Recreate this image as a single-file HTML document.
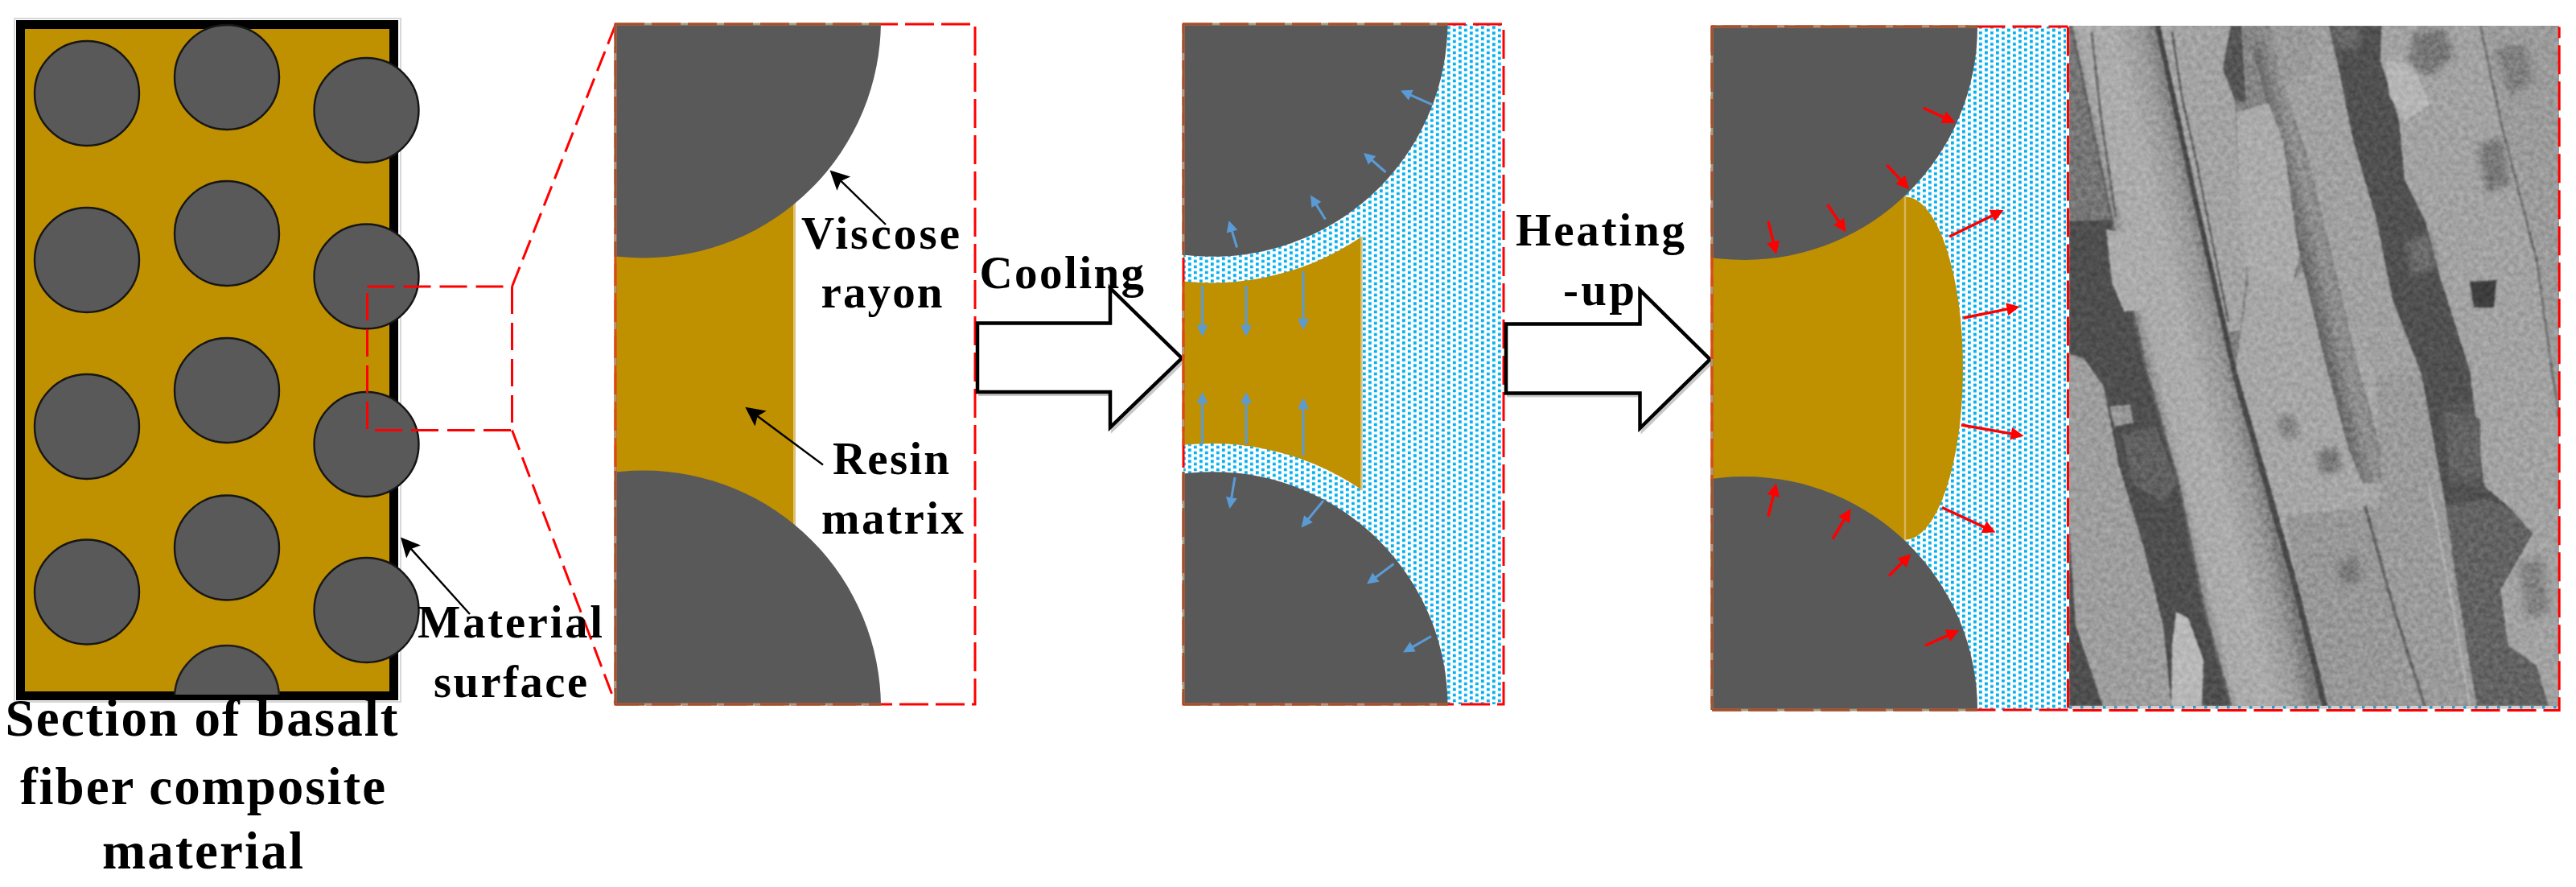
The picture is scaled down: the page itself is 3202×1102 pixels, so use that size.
<!DOCTYPE html>
<html><head><meta charset="utf-8"><style>
html,body{margin:0;padding:0;background:#fff;overflow:hidden}
svg{display:block}
text{font-family:"Liberation Serif",serif;font-weight:bold;fill:#000}
</style></head><body>
<svg width="3202" height="1102" viewBox="0 0 3202 1102">
<defs>
<pattern id="dots3" patternUnits="userSpaceOnUse" width="14" height="7" x="6.9" y="4.3">
<rect width="14" height="7" fill="#fff"/>
<rect x="0" y="0" width="3.8" height="3.8" fill="#00B0F0"/>
<rect x="7" y="3.5" width="3.8" height="3.8" fill="#00B0F0"/>
</pattern>
<pattern id="dots4" patternUnits="userSpaceOnUse" width="14" height="7" x="3" y="0.6">
<rect width="14" height="7" fill="#fff"/>
<rect x="0" y="0" width="3.8" height="3.8" fill="#00B0F0"/>
<rect x="7" y="3.5" width="3.8" height="3.8" fill="#00B0F0"/>
</pattern>
<clipPath id="cpL"><rect x="31" y="36" width="452" height="827"/></clipPath>
<clipPath id="cp2"><rect x="765" y="30" width="447" height="845"/></clipPath>
<clipPath id="cp3"><rect x="1471" y="30" width="398" height="845"/></clipPath>
<clipPath id="cp4"><rect x="2128" y="33" width="440" height="849"/></clipPath>
<clipPath id="cpS"><rect x="2572" y="32" width="609" height="845"/></clipPath>
<filter id="blur1" x="-5%" y="-5%" width="110%" height="110%"><feGaussianBlur stdDeviation="1.2"/></filter>
</defs>
<rect width="3202" height="1102" fill="#fff"/>

<rect x="18" y="23" width="480" height="849" fill="none" stroke="#d8d8d8" stroke-width="2"/>
<rect x="20" y="25" width="475" height="845" fill="#BF9000"/>
<rect x="25.5" y="30.5" width="464" height="834" fill="none" stroke="#000" stroke-width="11"/>
<circle cx="108" cy="116" r="65" fill="#595959" stroke="#161616" stroke-width="2.4"/>
<circle cx="108" cy="323" r="65" fill="#595959" stroke="#161616" stroke-width="2.4"/>
<circle cx="108" cy="530" r="65" fill="#595959" stroke="#161616" stroke-width="2.4"/>
<circle cx="108" cy="735.5" r="65" fill="#595959" stroke="#161616" stroke-width="2.4"/>
<circle cx="282" cy="96" r="65" fill="#595959" stroke="#161616" stroke-width="2.4"/>
<circle cx="282" cy="290" r="65" fill="#595959" stroke="#161616" stroke-width="2.4"/>
<circle cx="282" cy="485" r="65" fill="#595959" stroke="#161616" stroke-width="2.4"/>
<circle cx="282" cy="680.5" r="65" fill="#595959" stroke="#161616" stroke-width="2.4"/>
<circle cx="455.5" cy="137" r="65" fill="#595959" stroke="#161616" stroke-width="2.4"/>
<circle cx="455.5" cy="343.5" r="65" fill="#595959" stroke="#161616" stroke-width="2.4"/>
<circle cx="455.5" cy="552" r="65" fill="#595959" stroke="#161616" stroke-width="2.4"/>
<circle cx="455.5" cy="758" r="65" fill="#595959" stroke="#161616" stroke-width="2.4"/>
<g clip-path="url(#cpB)"><circle cx="282" cy="867" r="65" fill="#595959" stroke="#1e1e1e" stroke-width="2.5"/></g>
<clipPath id="cpB"><rect x="0" y="0" width="600" height="863"/></clipPath>
<rect x="456.5" y="356" width="180" height="178.5" fill="none" stroke="#FF0000" stroke-width="3" stroke-dasharray="34,11"/>
<line x1="636.5" y1="356" x2="765" y2="31" stroke="#FF0000" stroke-width="3" stroke-dasharray="26,10"/>
<line x1="636.5" y1="534.5" x2="765" y2="874" stroke="#FF0000" stroke-width="3" stroke-dasharray="26,10"/>
<line x1="584.0" y1="763.0" x2="510.2" y2="681.1" stroke="#000" stroke-width="2.4"/><polygon points="498.0,667.6 523.0,677.4 510.9,681.9 505.2,693.5" fill="#000"/>
<g clip-path="url(#cp2)">
<rect x="765" y="30" width="221.5" height="845" fill="#BF9000"/>
<line x1="987.5" y1="30" x2="987.5" y2="875" stroke="#DFC27A" stroke-width="3"/>
<circle cx="800" cy="25.5" r="295" fill="#595959"/>
<circle cx="800" cy="879.5" r="295" fill="#595959"/>
</g>
<rect x="765" y="30" width="447" height="845" fill="none" stroke="#FF0000" stroke-width="3" stroke-dasharray="36,9"/>
<line x1="765" y1="30" x2="765" y2="319" stroke="#A89878" stroke-width="3"/><line x1="765" y1="30" x2="765" y2="319" stroke="#A0522D" stroke-width="3" stroke-dasharray="36,9"/><line x1="765" y1="319" x2="765" y2="585" stroke="#A89878" stroke-width="3"/><line x1="765" y1="319" x2="765" y2="585" stroke="#DC4A0C" stroke-width="3" stroke-dasharray="36,9"/><line x1="765" y1="585" x2="765" y2="875" stroke="#A89878" stroke-width="3"/><line x1="765" y1="585" x2="765" y2="875" stroke="#A0522D" stroke-width="3" stroke-dasharray="36,9"/>
<line x1="765" y1="30" x2="1095" y2="30" stroke="#A89878" stroke-width="3"/><line x1="765" y1="30" x2="1095" y2="30" stroke="#A0522D" stroke-width="3" stroke-dasharray="36,9"/>
<line x1="765" y1="875" x2="1095" y2="875" stroke="#A89878" stroke-width="3"/><line x1="765" y1="875" x2="1095" y2="875" stroke="#A0522D" stroke-width="3" stroke-dasharray="36,9"/>
<line x1="1101.0" y1="279.0" x2="1044.6" y2="224.2" stroke="#000" stroke-width="2.4"/><polygon points="1031.5,211.5 1057.1,219.6 1045.3,224.9 1040.4,236.8" fill="#000"/>
<line x1="1023.0" y1="577.5" x2="940.9" y2="516.5" stroke="#000" stroke-width="2.4"/><polygon points="926.3,505.7 952.7,510.4 941.7,517.1 938.4,529.6" fill="#000"/>
<polygon points="1215,401.5 1380,401.5 1380,358 1469,445 1380,531 1380,487 1215,487" transform="translate(3,3)" fill="none" stroke="#c8c8c8" stroke-width="4"/><polygon points="1215,401.5 1380,401.5 1380,358 1469,445 1380,531 1380,487 1215,487" fill="#fff" stroke="#000" stroke-width="4.5" stroke-linejoin="miter"/>
<g clip-path="url(#cp3)">
<rect x="1471" y="30" width="398" height="845" fill="url(#dots3)"/>
<path d="M1471,30 H1691 V875 H1471 Z" fill="#BF9000" />
<circle cx="1506" cy="19.4" r="332" fill="url(#dots3)"/>
<circle cx="1506" cy="883" r="332" fill="url(#dots3)"/>
<line x1="1692.3" y1="294" x2="1692.3" y2="609" stroke="#DFC27A" stroke-width="2.6"/>
<circle cx="1508" cy="27.3" r="291.5" fill="#595959"/>
<circle cx="1508" cy="877.7" r="291.5" fill="#595959"/>
</g>
<rect x="1471" y="30" width="398" height="845" fill="none" stroke="#FF0000" stroke-width="3" stroke-dasharray="36,9"/>
<line x1="1471" y1="30" x2="1471" y2="317" stroke="#A89878" stroke-width="3"/><line x1="1471" y1="30" x2="1471" y2="317" stroke="#A0522D" stroke-width="3" stroke-dasharray="36,9"/><line x1="1471" y1="350" x2="1471" y2="553" stroke="#A89878" stroke-width="3"/><line x1="1471" y1="350" x2="1471" y2="553" stroke="#DC4A0C" stroke-width="3" stroke-dasharray="36,9"/><line x1="1471" y1="586" x2="1471" y2="875" stroke="#A89878" stroke-width="3"/><line x1="1471" y1="586" x2="1471" y2="875" stroke="#A0522D" stroke-width="3" stroke-dasharray="36,9"/>
<line x1="1471" y1="30" x2="1800" y2="30" stroke="#A89878" stroke-width="3"/><line x1="1471" y1="30" x2="1800" y2="30" stroke="#A0522D" stroke-width="3" stroke-dasharray="36,9"/>
<line x1="1471" y1="875" x2="1800" y2="875" stroke="#A89878" stroke-width="3"/><line x1="1471" y1="875" x2="1800" y2="875" stroke="#A0522D" stroke-width="3" stroke-dasharray="36,9"/>
<line x1="1494.5" y1="355.0" x2="1494.5" y2="405.0" stroke="#5B9BD5" stroke-width="3"/><polygon points="1494.5,418.0 1487.5,404.0 1494.5,404.0 1501.5,404.0" fill="#5B9BD5"/>
<line x1="1549.0" y1="355.0" x2="1549.0" y2="405.0" stroke="#5B9BD5" stroke-width="3"/><polygon points="1549.0,418.0 1542.0,404.0 1549.0,404.0 1556.0,404.0" fill="#5B9BD5"/>
<line x1="1620.0" y1="337.0" x2="1620.0" y2="397.0" stroke="#5B9BD5" stroke-width="3"/><polygon points="1620.0,410.0 1613.0,396.0 1620.0,396.0 1627.0,396.0" fill="#5B9BD5"/>
<line x1="1494.5" y1="552.0" x2="1494.5" y2="500.0" stroke="#5B9BD5" stroke-width="3"/><polygon points="1494.5,487.0 1501.5,501.0 1494.5,501.0 1487.5,501.0" fill="#5B9BD5"/>
<line x1="1549.0" y1="552.0" x2="1549.0" y2="500.0" stroke="#5B9BD5" stroke-width="3"/><polygon points="1549.0,487.0 1556.0,501.0 1549.0,501.0 1542.0,501.0" fill="#5B9BD5"/>
<line x1="1620.0" y1="566.0" x2="1620.0" y2="507.0" stroke="#5B9BD5" stroke-width="3"/><polygon points="1620.0,494.0 1627.0,508.0 1620.0,508.0 1613.0,508.0" fill="#5B9BD5"/>
<line x1="1537.5" y1="307.5" x2="1531.2" y2="286.5" stroke="#5B9BD5" stroke-width="3"/><polygon points="1527.5,274.0 1538.2,285.4 1531.5,287.4 1524.8,289.4" fill="#5B9BD5"/>
<line x1="1647.5" y1="272.5" x2="1635.8" y2="253.6" stroke="#5B9BD5" stroke-width="3"/><polygon points="1629.0,242.5 1642.3,250.7 1636.3,254.4 1630.4,258.1" fill="#5B9BD5"/>
<line x1="1722.5" y1="214.0" x2="1704.8" y2="198.5" stroke="#5B9BD5" stroke-width="3"/><polygon points="1695.0,190.0 1710.2,193.9 1705.5,199.2 1700.9,204.5" fill="#5B9BD5"/>
<line x1="1780.0" y1="130.0" x2="1752.9" y2="117.8" stroke="#5B9BD5" stroke-width="3"/><polygon points="1741.0,112.5 1756.6,111.8 1753.8,118.2 1750.9,124.6" fill="#5B9BD5"/>
<line x1="1535.0" y1="593.0" x2="1530.6" y2="619.2" stroke="#5B9BD5" stroke-width="3"/><polygon points="1528.5,632.0 1523.9,617.0 1530.8,618.2 1537.7,619.3" fill="#5B9BD5"/>
<line x1="1645.0" y1="622.0" x2="1625.7" y2="645.5" stroke="#5B9BD5" stroke-width="3"/><polygon points="1617.5,655.5 1621.0,640.2 1626.4,644.7 1631.8,649.1" fill="#5B9BD5"/>
<line x1="1732.5" y1="700.5" x2="1709.4" y2="717.7" stroke="#5B9BD5" stroke-width="3"/><polygon points="1699.0,725.5 1706.0,711.5 1710.2,717.1 1714.4,722.7" fill="#5B9BD5"/>
<line x1="1779.0" y1="790.5" x2="1755.3" y2="804.1" stroke="#5B9BD5" stroke-width="3"/><polygon points="1744.0,810.5 1752.7,797.5 1756.2,803.6 1759.6,809.6" fill="#5B9BD5"/>
<polygon points="1872,402.5 2038.5,402.5 2038.5,360.5 2125.5,446.5 2038.5,532 2038.5,488.5 1872,488.5" transform="translate(3,3)" fill="none" stroke="#c8c8c8" stroke-width="4"/><polygon points="1872,402.5 2038.5,402.5 2038.5,360.5 2125.5,446.5 2038.5,532 2038.5,488.5 1872,488.5" fill="#fff" stroke="#000" stroke-width="4.5" stroke-linejoin="miter"/>
<g clip-path="url(#cp4)">
<rect x="2128" y="33" width="440" height="849" fill="url(#dots4)"/>
<path d="M2128,33 H2368 V882 H2128 Z" fill="#BF9000"/>
<ellipse cx="2368" cy="457.5" rx="72" ry="213" fill="#BF9000"/>
<line x1="2368" y1="240" x2="2368" y2="680" stroke="#D9B45A" stroke-width="2.5"/>
<circle cx="2168" cy="33" r="290" fill="#595959"/>
<circle cx="2168" cy="882" r="290" fill="#595959"/>
</g>
<path d="M2570.5,882 H2128 V33 H2570.5" fill="none" stroke="#FF0000" stroke-width="3" stroke-dasharray="36,9"/>
<line x1="2128" y1="33" x2="2128" y2="320" stroke="#A89878" stroke-width="3"/><line x1="2128" y1="33" x2="2128" y2="320" stroke="#A0522D" stroke-width="3" stroke-dasharray="36,9"/><line x1="2128" y1="320" x2="2128" y2="595" stroke="#A89878" stroke-width="3"/><line x1="2128" y1="320" x2="2128" y2="595" stroke="#DC4A0C" stroke-width="3" stroke-dasharray="36,9"/><line x1="2128" y1="595" x2="2128" y2="882" stroke="#A89878" stroke-width="3"/><line x1="2128" y1="595" x2="2128" y2="882" stroke="#A0522D" stroke-width="3" stroke-dasharray="36,9"/>
<line x1="2128" y1="33" x2="2458" y2="33" stroke="#A89878" stroke-width="3"/><line x1="2128" y1="33" x2="2458" y2="33" stroke="#A0522D" stroke-width="3" stroke-dasharray="36,9"/>
<line x1="2128" y1="882" x2="2458" y2="882" stroke="#A89878" stroke-width="3"/><line x1="2128" y1="882" x2="2458" y2="882" stroke="#A0522D" stroke-width="3" stroke-dasharray="36,9"/>
<line x1="2390.5" y1="134.0" x2="2416.9" y2="146.2" stroke="#FF0000" stroke-width="3.5"/><polygon points="2430.5,152.5 2412.6,153.0 2416.0,145.8 2419.3,138.5" fill="#FF0000"/>
<line x1="2345.5" y1="205.0" x2="2362.9" y2="223.9" stroke="#FF0000" stroke-width="3.5"/><polygon points="2373.0,235.0 2356.3,228.6 2362.2,223.2 2368.1,217.8" fill="#FF0000"/>
<line x1="2271.5" y1="254.0" x2="2286.2" y2="276.0" stroke="#FF0000" stroke-width="3.5"/><polygon points="2294.5,288.5 2279.0,279.6 2285.6,275.2 2292.3,270.7" fill="#FF0000"/>
<line x1="2198.0" y1="275.0" x2="2204.4" y2="301.4" stroke="#FF0000" stroke-width="3.5"/><polygon points="2208.0,316.0 2196.4,302.4 2204.2,300.5 2212.0,298.6" fill="#FF0000"/>
<line x1="2423.0" y1="294.0" x2="2477.0" y2="267.6" stroke="#FF0000" stroke-width="3.5"/><polygon points="2490.5,261.0 2479.6,275.2 2476.1,268.0 2472.6,260.8" fill="#FF0000"/>
<line x1="2440.5" y1="395.0" x2="2495.8" y2="383.9" stroke="#FF0000" stroke-width="3.5"/><polygon points="2510.5,381.0 2496.4,392.0 2494.8,384.1 2493.2,376.3" fill="#FF0000"/>
<line x1="2438.0" y1="528.0" x2="2500.7" y2="538.9" stroke="#FF0000" stroke-width="3.5"/><polygon points="2515.5,541.5 2498.4,546.6 2499.7,538.8 2501.1,530.9" fill="#FF0000"/>
<line x1="2414.0" y1="630.5" x2="2466.9" y2="655.2" stroke="#FF0000" stroke-width="3.5"/><polygon points="2480.5,661.5 2462.6,662.0 2466.0,654.7 2469.4,647.5" fill="#FF0000"/>
<line x1="2198.0" y1="641.5" x2="2204.4" y2="615.1" stroke="#FF0000" stroke-width="3.5"/><polygon points="2208.0,600.5 2212.0,617.9 2204.2,616.0 2196.4,614.1" fill="#FF0000"/>
<line x1="2278.0" y1="669.5" x2="2292.8" y2="644.9" stroke="#FF0000" stroke-width="3.5"/><polygon points="2300.5,632.0 2299.1,649.8 2292.3,645.7 2285.4,641.6" fill="#FF0000"/>
<line x1="2348.0" y1="715.5" x2="2364.9" y2="698.6" stroke="#FF0000" stroke-width="3.5"/><polygon points="2375.5,688.0 2369.8,705.0 2364.2,699.3 2358.5,693.7" fill="#FF0000"/>
<line x1="2393.0" y1="802.0" x2="2421.8" y2="789.1" stroke="#FF0000" stroke-width="3.5"/><polygon points="2435.5,783.0 2424.2,796.8 2420.9,789.5 2417.6,782.2" fill="#FF0000"/>
<g clip-path="url(#cpS)">
<rect x="2572" y="32" width="609" height="845" fill="#9a9a9a"/>
<defs>
<linearGradient id="gA" gradientUnits="userSpaceOnUse" x1="2666" y1="460" x2="2776" y2="434">
<stop offset="0" stop-color="#8c8c8c"/><stop offset="0.15" stop-color="#b2b2b2"/><stop offset="0.5" stop-color="#b4b4b4"/><stop offset="0.82" stop-color="#a2a2a2"/><stop offset="1" stop-color="#808080"/>
</linearGradient>
<linearGradient id="gJ" gradientUnits="userSpaceOnUse" x1="2855" y1="300" x2="2905" y2="288">
<stop offset="0" stop-color="#6e6e6e"/><stop offset="0.5" stop-color="#999999"/><stop offset="1" stop-color="#858585"/>
</linearGradient>
<filter id="semf" x="2572" y="32" width="609" height="845" filterUnits="userSpaceOnUse" color-interpolation-filters="sRGB">
<feGaussianBlur stdDeviation="1.3"/>
<feComponentTransfer><feFuncR type="linear" slope="1.02" intercept="-0.045"/><feFuncG type="linear" slope="1.02" intercept="-0.045"/><feFuncB type="linear" slope="1.02" intercept="-0.045"/></feComponentTransfer>
</filter>
<filter id="spotf" x="2572" y="32" width="609" height="845" filterUnits="userSpaceOnUse"><feGaussianBlur stdDeviation="4"/></filter>
<filter id="noise" x="2572" y="32" width="609" height="845" filterUnits="userSpaceOnUse" color-interpolation-filters="sRGB">
<feTurbulence type="fractalNoise" baseFrequency="0.16" numOctaves="2" seed="7" result="t"/>
<feColorMatrix type="matrix" values="0 0 0 0 0  0 0 0 0 0  0 0 0 0 0  0 0 0 0 1" in="t" result="a"/>
<feColorMatrix type="matrix" in="t" values="1.6 0 0 0 -0.3  1.6 0 0 0 -0.3  1.6 0 0 0 -0.3  0 0 0 0 1"/>
</filter>
</defs>
<g filter="url(#semf)">
<rect x="2572" y="32" width="609" height="845" fill="#8a8a8a"/>
<polygon points="2572,32 2575,32 2625,273 2668,460 2572,460" fill="#7e7e7e"/>
<polygon points="2572,275 2625,273 2668,460 2709,604 2739,753 2773,877 2572,877" fill="#585858"/>
<polygon points="2572,440 2590,445 2615,480 2634,579 2664,678 2689,777 2699,877 2614,877 2580,777 2572,653" fill="#a6a6a6"/>
<polygon points="2622,505 2648,503 2652,525 2628,530" fill="#a0a0a0"/>
<polygon points="2638,540 2680,530 2705,600 2690,625 2650,600" fill="#6a6a6a"/>
<polygon points="2705,760 2720,768 2739,820 2737,877 2699,877 2700,800" fill="#c0c0c0"/>
<polygon points="2575,32 2625,273 2668,460 2709,604 2739,753 2773,877 2890,877 2853,728 2818,604 2778,465 2729,248 2682,32" fill="url(#gA)"/>
<polyline points="2575,32 2625,273 2668,460 2709,604 2739,753 2773,877" fill="none" stroke="#6c6c6c" stroke-width="3" stroke-linejoin="round"/>
<polygon points="2682,32 2773,32 2763,85 2778,124 2783,248 2793,323 2785,410 2770,412 2729,248" fill="#acacac"/>
<polygon points="2773,32 2786,32 2792,128 2778,124 2763,85" fill="#5e5e5e"/>
<polygon points="2786,32 2823,32 2830,139 2792,128" fill="#8e8e8e"/>
<polygon points="2778,465 2795,347 2850,347 2885,323 2920,400 2954,465 2960,600 2955,660 2975,755 2985,877 2890,877 2853,728 2818,604" fill="#aeaeae"/>
<polygon points="2840,640 2957,630 2975,755 2985,877 2890,877 2860,740" fill="#a0a0a0"/>
<polygon points="2823,32 2895,32 2905,75 2925,174 2954,273 2974,372 3010,465 2954,465 2920,400 2885,323 2858,320 2838,175 2830,139" fill="#a9a9a9"/>
<polygon points="2823,32 2880,32 2870,90 2845,110 2830,80" fill="#a2a2a2"/>
<polygon points="2800,60 2822,32 2840,110 2870,200 2902,330 2930,450 2960,560 2981,600 2937,600 2920,560 2890,450 2862,330 2835,200" fill="url(#gJ)"/>
<polygon points="2780,140 2820,128 2838,175 2858,320 2850,350 2795,350 2783,248" fill="#b2b2b2"/>
<polygon points="2954,465 3010,465 3022,530 3040,628 3054,727 3079,877 2985,877 2975,755 2955,660 2960,600" fill="#a3a3a3"/>
<polyline points="2940,629 2975,755 3014,877" fill="none" stroke="#6e6e6e" stroke-width="4" stroke-linejoin="round"/>
<polyline points="3019,600 3050,760 3070,877" fill="none" stroke="#b8b8b8" stroke-width="3" stroke-linejoin="round"/>
<polygon points="2895,32 2905,75 2925,174 2954,273 2974,372 3010,465 3022,530 3040,628 3054,727 3079,877 3168,877 3153,827 3118,802 3108,733 3148,663 3118,629 3088,604 3070,460 3034,347 3014,273 2989,223 2982,149 2959,75 2960,32" fill="#5a5a5a"/>
<polygon points="3040,628 3088,620 3118,629 3148,663 3108,733 3118,802 3153,827 3168,877 3079,877 3054,727" fill="#6c6c6c"/>
<polygon points="3034,505 3075,500 3085,560 3083,604 3045,600" fill="#626262"/>
<polygon points="2960,32 3181,32 3181,877 3168,877 3153,827 3118,802 3108,733 3148,663 3118,629 3088,604 3070,460 3034,347 3014,273 2989,223 2982,149 2959,75 2960,32" fill="#ababab"/>
<polygon points="3083,32 3181,32 3181,520 3173,465 3153,323 3108,149" fill="#a4a4a4"/>
<polyline points="3083,32 3108,149 3153,323 3173,465 3181,520" fill="none" stroke="#7a7a7a" stroke-width="3" stroke-linejoin="round"/>
<polygon points="2965,75 3000,80 3020,130 2990,150 2970,120" fill="#bdbdbd"/>
<polygon points="3070,350 3103,348 3100,382 3075,382" fill="#484848"/>
<polyline points="2682,32 2729,248 2778,465" fill="none" stroke="#505050" stroke-width="6" stroke-linejoin="round"/>
<polyline points="2778,465 2818,604 2853,728 2890,877" fill="none" stroke="#525252" stroke-width="7" stroke-linejoin="round"/>
<polyline points="2700,40 2712,120 2730,200 2748,290 2770,400" fill="none" stroke="#666666" stroke-width="2.5" stroke-linejoin="round"/>
<polygon points="3039,513 3083,520 3083,595 3045,590" fill="#6c6c6c"/>
<polyline points="2600,40 2612,150 2630,270" fill="none" stroke="#707070" stroke-width="3" stroke-linejoin="round"/>
<polygon points="2618,285 2650,290 2668,330 2669,385 2640,387 2625,350" fill="#b4b4b4"/>
</g>
<g filter="url(#spotf)" opacity="0.8">
<polygon points="3000,40 3040,36 3050,70 3020,95 2995,80" fill="#6a6a6a"/>
<polygon points="3100,60 3140,55 3150,100 3120,120" fill="#787878"/>
<polygon points="3080,180 3110,170 3120,230 3090,240" fill="#6e6e6e"/>
<polygon points="2990,300 3020,290 3030,330 3000,345" fill="#727272"/>
<polygon points="3130,700 3160,690 3170,760 3140,770" fill="#7a7a7a"/>
<polygon points="2880,560 2905,555 2910,585 2885,590" fill="#6a6a6a"/>
<polygon points="2905,700 2930,690 2935,720 2912,728" fill="#707070"/>
<polygon points="2830,520 2850,515 2858,540 2838,545" fill="#757575"/>
<polygon points="2895,32 2935,32 2930,60 2905,60" fill="#707070"/>
<polygon points="3005,50 3030,50 3028,80 3008,78" fill="#6c6c6c"/>
</g>
<rect x="2572" y="32" width="609" height="845" filter="url(#noise)" opacity="0.16" style="mix-blend-mode:overlay"/>
</g>
<rect x="2572" y="877" width="609" height="3.5" fill="#cfcfcf"/>
<line x1="2572" y1="878.8" x2="3181" y2="878.8" stroke="#2a9ccc" stroke-width="3.5" stroke-dasharray="3.5,10.5"/>
<path d="M2570.5,33.5 V882.5 H3181.2 V33.5" fill="none" stroke="#FF0000" stroke-width="3" stroke-dasharray="36,9"/>
<text x="6.5" y="914" font-size="65" textLength="488" lengthAdjust="spacing">Section of basalt</text>
<text x="25" y="999" font-size="65" textLength="454" lengthAdjust="spacing">fiber composite</text>
<text x="127" y="1079" font-size="65" textLength="250" lengthAdjust="spacing">material</text>
<text x="519" y="792" font-size="56.5" textLength="230" lengthAdjust="spacing">Material</text>
<text x="539" y="866" font-size="56.5" textLength="191" lengthAdjust="spacing">surface</text>
<text x="996" y="308.5" font-size="57" textLength="197" lengthAdjust="spacing">Viscose</text>
<text x="1020.5" y="382" font-size="57" textLength="151" lengthAdjust="spacing">rayon</text>
<text x="1035" y="589" font-size="57" textLength="145" lengthAdjust="spacing">Resin</text>
<text x="1021" y="662.5" font-size="57" textLength="177" lengthAdjust="spacing">matrix</text>
<text x="1217.5" y="357.5" font-size="57" textLength="204.5" lengthAdjust="spacing">Cooling</text>
<text x="1884" y="305" font-size="57" textLength="210" lengthAdjust="spacing">Heating</text>
<text x="1943" y="378.5" font-size="57" textLength="89" lengthAdjust="spacing">-up</text>
</svg></body></html>
